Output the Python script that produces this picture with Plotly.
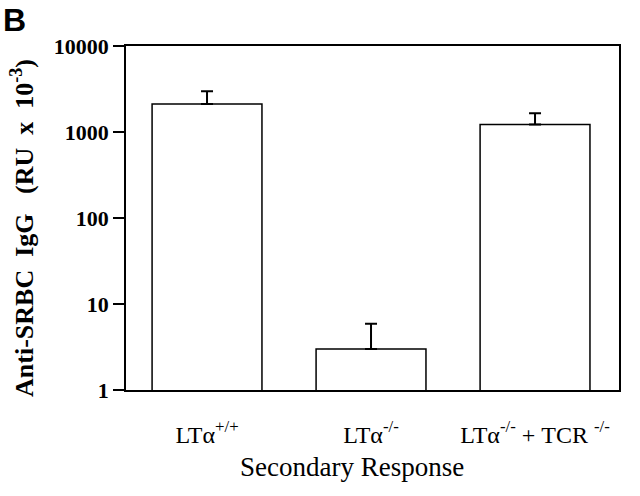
import plotly.graph_objects as go

# Secondary response, anti-SRBC IgG (RU x 10^-3)
grupos = ['LTα<sup>+/+</sup>', 'LTα<sup>-/-</sup>', 'LTα<sup>-/-</sup> + TCR <sup>-/-</sup>']
valores = [2120, 3.0, 1220]
erro_sup = [860, 2.9, 430]
ticks_y = [1, 10, 100, 1000, 10000]

serif = 'Liberation Serif, Times New Roman, serif'

fig = go.Figure(go.Bar(
    x=grupos, y=valores,
    width=0.67,
    marker={'color': 'white', 'line': {'color': 'black', 'width': 1.5}},
    error_y={'type': 'data', 'array': erro_sup, 'arrayminus': [0, 0, 0],
             'symmetric': False, 'color': 'black', 'thickness': 2, 'width': 6},
))

fig.update_xaxes(
    range=[-0.494, 2.512], automargin=False,
    showline=True, linecolor='black', linewidth=1.5, mirror=True,
    ticks='', ticklabelstandoff=22,
    tickfont={'family': serif, 'size': 24, 'color': 'black'},
)
fig.update_yaxes(
    type='log', range=[0, 4], automargin=False,
    tickvals=ticks_y, ticktext=['<b>%d</b>' % t for t in ticks_y],
    showline=True, linecolor='black', linewidth=1.5, mirror=True,
    ticks='outside', ticklen=11, tickwidth=1.5, tickcolor='black',
    showgrid=False, zeroline=False,
    tickfont={'family': serif, 'size': 22, 'color': 'black'},
)

# titulo do eixo y como anotação para poder ajustar a posição
fig.add_annotation(text='<b>Anti-SRBC  IgG   (RU  x  10<sup>-3</sup>)</b>',
                   xref='paper', yref='paper', x=-0.211, y=0.5, yshift=-10,
                   xanchor='center', yanchor='middle',
                   textangle=-90, showarrow=False,
                   font={'family': serif, 'size': 26, 'color': 'black'})
fig.add_annotation(text='Secondary Response', xref='paper', yref='paper',
                   x=0.458, y=-0.225, yanchor='middle', showarrow=False,
                   font={'family': serif, 'size': 27, 'color': 'black'})
fig.add_annotation(text='<b>B</b>', xref='paper', yref='paper',
                   x=-0.254, y=1.135, xanchor='left', yanchor='top', showarrow=False,
                   font={'family': 'Liberation Sans, Arial, sans-serif', 'size': 32, 'color': 'black'})

fig.update_layout(
    width=640, height=496,
    margin={'l': 126, 'r': 21, 't': 46, 'b': 106},
    paper_bgcolor='white', plot_bgcolor='white',
    showlegend=False,
)

fig.write_html('out.html', config={'displayModeBar': False},
               post_script="document.body.style.margin='0';")
